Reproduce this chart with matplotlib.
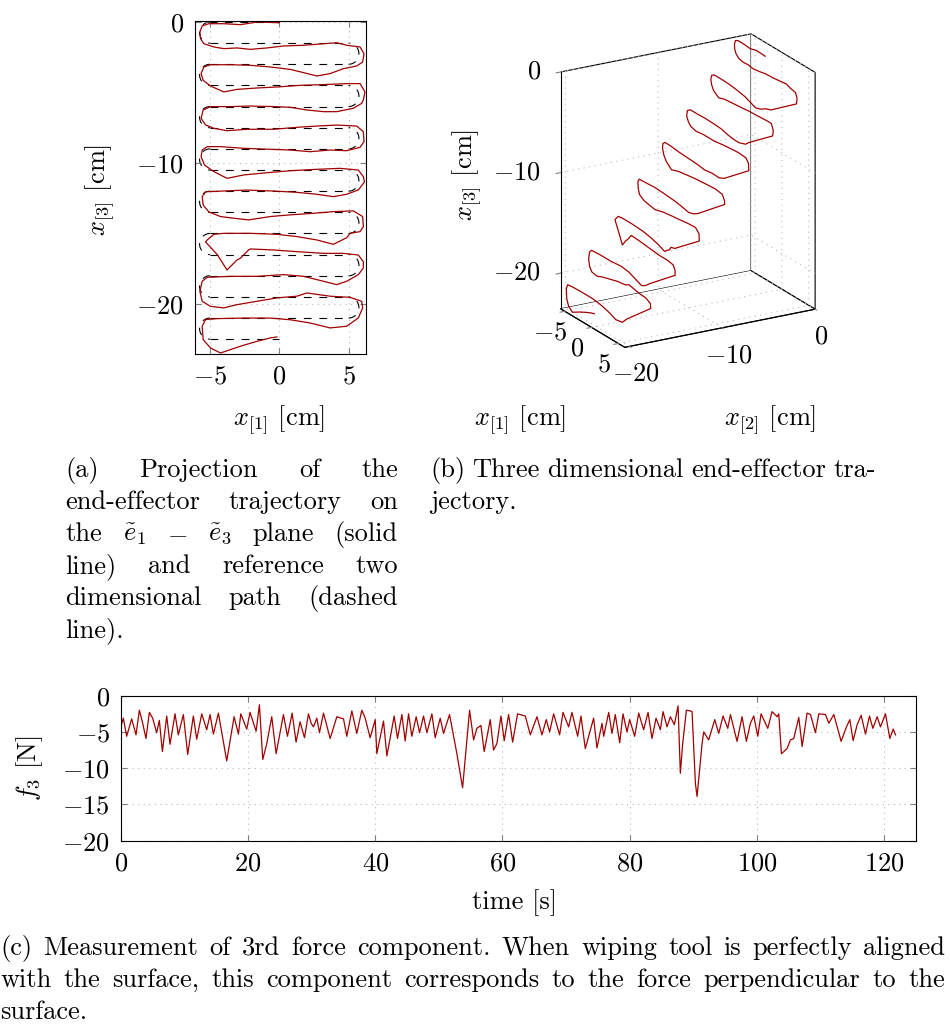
import matplotlib
matplotlib.use("Agg")
import matplotlib.pyplot as plt
from matplotlib.patches import Arc
import numpy as np

# ---------------- data ----------------
# measured end-effector path, one list per pass (row + turn), (x1, x3) in cm
passes = [
    [(0.0, -0.05), (-1.6, 0.0), (-2.8, -0.19), (-4.0, -0.12), (-5.08, -0.12), (-5.56, -0.28),
     (-5.73, -0.71), (-5.68, -1.18), (-5.44, -1.54)],
    [(-4.72, -1.77), (-4.0, -1.89), (-3.05, -1.84), (-2.09, -1.94), (-0.89, -1.84), (0.31, -1.70),
     (1.75, -1.65), (3.19, -1.54), (4.15, -1.47), (4.87, -1.65), (5.83, -1.77), (6.12, -2.25), (6.02, -2.84)],
    [(5.59, -3.12), (4.63, -3.31), (3.67, -3.66), (2.71, -3.83), (1.75, -3.59), (0.79, -3.36),
     (-0.65, -3.19), (-2.09, -3.07), (-3.53, -3.03), (-4.96, -3.03), (-5.44, -3.19), (-5.64, -3.66), (-5.49, -4.14)],
    [(-4.96, -4.54), (-4.0, -4.96), (-3.05, -4.78), (-1.6, -4.68), (-0.17, -4.61), (1.51, -4.49),
     (3.19, -4.44), (4.87, -4.37), (5.83, -4.37), (6.19, -4.96), (6.07, -5.53)],
    [(5.95, -5.77), (5.35, -6.12), (4.15, -6.36), (3.19, -6.36), (1.99, -6.24), (0.79, -6.05), (-0.41, -6.0),
     (-2.09, -5.96), (-3.53, -6.0), (-4.96, -6.0), (-5.49, -6.24), (-5.64, -6.83), (-5.32, -7.3)],
    [(-4.72, -7.54), (-3.77, -7.71), (-2.33, -7.61), (-0.41, -7.61), (1.27, -7.47), (2.71, -7.38),
     (4.15, -7.31), (5.59, -7.38), (6.07, -7.78), (6.12, -8.49)],
    [(5.83, -8.89), (4.87, -9.13), (3.67, -9.08), (2.23, -9.2), (0.79, -9.08), (-0.65, -9.03),
     (-2.57, -8.96), (-4.24, -8.84), (-5.2, -8.84), (-5.56, -9.08), (-5.64, -9.55), (-5.4, -10.14)],
    [(-4.72, -10.61), (-3.77, -11.09), (-2.57, -10.85), (-0.89, -10.69), (0.79, -10.55), (2.71, -10.45),
     (4.39, -10.38), (5.71, -10.5), (6.07, -10.97), (6.15, -11.35)],
    [(5.71, -11.91), (4.87, -12.22), (3.91, -12.39), (2.71, -12.22), (1.27, -12.08), (-0.41, -11.99),
     (-2.33, -11.92), (-4.0, -11.99), (-5.32, -12.04), (-5.56, -12.39), (-5.49, -12.99)],
    [(-5.08, -13.47), (-4.24, -13.8), (-3.29, -13.92), (-2.21, -14.04), (-0.65, -13.8), (0.79, -13.68),
     (2.47, -13.57), (3.91, -13.45), (5.35, -13.4), (6.02, -13.8), (6.07, -14.52)],
    [(5.83, -14.87), (5.11, -14.99), (4.87, -15.3), (3.91, -15.77), (2.71, -15.46), (1.27, -15.22),
     (-0.17, -15.06), (-2.09, -14.99), (-4.0, -14.99), (-4.72, -15.06), (-5.2, -15.46), (-5.32, -15.6)],
    [(-4.48, -16.49), (-3.77, -17.59), (-3.05, -16.88), (-2.81, -16.76), (-2.21, -16.17), (-2.09, -16.1),
     (-0.41, -16.17), (1.27, -16.29), (3.19, -16.41), (4.63, -16.41), (5.71, -16.53), (6.07, -17.0), (6.07, -17.45)],
    [(5.71, -17.92), (4.87, -18.39), (4.15, -18.63), (3.19, -18.39), (1.75, -18.04), (0.31, -17.92),
     (-1.6, -18.04), (-3.53, -18.04), (-5.2, -18.11), (-5.56, -18.39), (-5.73, -19.1), (-5.56, -19.81)],
    [(-4.96, -20.17), (-4.0, -20.28), (-3.05, -20.05), (-1.6, -19.81), (-0.17, -19.57), (1.27, -19.45),
     (1.99, -19.22), (3.67, -19.45), (5.11, -19.53), (5.95, -19.81), (6.02, -20.28)],
    [(5.71, -20.99), (4.87, -21.58), (3.67, -21.7), (2.23, -21.35), (0.79, -21.12), (-0.65, -21.0),
     (-2.57, -21.0), (-4.48, -21.04), (-5.32, -21.11), (-5.56, -21.58), (-5.49, -22.53)],
    [(-4.96, -23.12), (-4.24, -23.48), (-2.81, -23.0), (-1.6, -22.65), (-0.65, -22.41), (-0.17, -22.34)],
]
# depth x2 of each pass (3D view): the tool steps back after every second pass
pass_x2 = [-1.8, -1.9, -4.4, -4.5, -7.0, -7.1, -9.6, -9.7, -12.3, -12.4, -14.9, -15.0, -17.5, -17.6, -20.0, -20.1]

# reference path rows (x3, cm), straight segments between x1=-5 and 5, turns of radius 0.75
ref_rows = [0.0, -1.5, -3.0, -4.5, -6.0, -7.5, -9.0, -10.5, -12.0, -13.5, -15.0, -16.5, -18.0, -19.5, -21.0, -22.5]
ref_half = 5.0
ref_radius = 0.75

# force component f3 (N) vs time (s)
force_t = [0.0, 0.37, 0.89, 1.68, 2.36, 2.89, 3.41, 3.93, 4.46, 4.98, 5.61, 6.03, 6.51, 7.19, 7.71, 8.5, 9.02,
           9.81, 10.49, 11.38, 11.91, 12.7, 13.48, 14.01, 14.53, 15.32, 16.63, 17.79, 18.47, 18.84, 19.78,
           20.3, 21.25, 21.77, 22.3, 22.93, 23.71, 24.4, 25.55, 26.18, 26.92, 27.54, 28.17, 28.86, 29.49,
           29.91, 30.27, 30.8, 31.22, 31.85, 32.9, 33.95, 35.0, 35.52, 36.31, 37.09, 37.88, 38.41, 39.19,
           39.98, 40.24, 41.29, 41.82, 42.97, 43.49, 44.18, 44.7, 45.23, 45.75, 46.43, 46.96, 47.59, 48.11,
           48.9, 49.42, 50.21, 50.73, 51.68, 52.83, 53.73, 54.83, 55.46, 55.98, 56.61, 57.13, 58.08, 58.6,
           59.13, 59.76, 60.28, 60.97, 61.6, 62.38, 63.59, 64.38, 65.43, 66.21, 66.89, 67.42, 68.05, 68.99,
           69.52, 70.41, 70.93, 71.83, 72.35, 73.03, 74.34, 74.87, 75.66, 75.92, 76.71, 77.23, 77.75, 78.44,
           78.96, 79.59, 80.01, 80.8, 81.43, 82.21, 82.9, 83.52, 84.16, 84.84, 85.26, 85.89, 86.41, 87.04,
           87.62, 87.98, 88.35, 88.93, 89.56, 89.82, 90.35, 90.61, 91.4, 91.66, 92.44, 93.39, 94.02, 94.7,
           95.44, 95.86, 96.9, 97.69, 98.37, 99.0, 99.53, 100.16, 100.68, 101.73, 102.41, 103.2, 103.46,
           103.88, 104.77, 105.3, 105.82, 106.61, 107.14, 107.92, 108.45, 109.23, 109.76, 110.81, 111.33,
           112.12, 113.27, 114.11, 114.64, 115.16, 115.79, 116.42, 117.1, 117.73, 118.26, 118.94, 119.46,
           120.25, 120.93, 121.46, 121.83]
force_f = [-4.2, -3.1, -5.6, -3.2, -5.4, -2.0, -3.8, -5.9, -2.3, -3.1, -5.1, -3.4, -7.7, -2.8, -6.7, -2.5, -5.4,
           -2.6, -8.1, -2.8, -6.0, -2.5, -4.7, -2.6, -5.3, -2.4, -9.0, -2.9, -5.3, -2.5, -4.6,
           -2.3, -4.9, -1.25, -8.8, -6.6, -2.9, -8.0, -2.6, -5.6, -2.4, -6.4, -3.6, -5.8, -2.5,
           -3.8, -4.3, -3.1, -5.1, -2.4, -5.9, -2.9, -3.2, -5.6, -2.1, -5.2, -2.0, -3.1, -5.8,
           -3.3, -8.0, -3.5, -8.3, -2.8, -5.9, -2.6, -6.25, -2.5, -5.6, -2.9, -5.1, -2.8, -5.1,
           -2.5, -5.8, -3.1, -5.2, -2.6, -8.0, -12.7, -2.0, -6.1, -4.5, -4.1, -7.7, -3.3, -7.5,
           -6.6, -2.8, -6.2, -2.6, -6.4, -2.5, -2.8, -5.4, -2.9, -5.4, -3.3, -5.0, -2.5, -5.4,
           -2.3, -4.3, -2.3, -5.6, -2.8, -7.3, -3.1, -7.2, -3.8, -5.6, -2.3, -5.2, -2.6, -6.5,
           -2.5, -5.0, -3.3, -5.6, -2.4, -4.7, -2.3, -5.9, -3.1, -4.7, -2.2, -4.3, -2.9, -4.0,
           -1.4, -10.7, -6.6, -2.0, -2.1, -2.2, -12.1, -13.9, -6.6, -5.0, -6.1, -3.3, -5.2, -2.8,
           -4.5, -2.6, -6.3, -2.9, -6.3, -3.8, -2.8, -5.6, -2.5, -4.5, -2.2, -2.9, -2.5,
           -8.0, -7.3, -6.1, -5.9, -3.0, -7.0, -2.4, -2.6, -5.1, -2.5, -2.6, -3.8,
           -2.6, -6.3, -4.3, -3.3, -6.2, -4.0, -2.7, -5.3, -2.8, -4.5, -2.9, -4.3,
           -2.5, -5.9, -4.6, -5.4]

# ---------------- style ----------------
FS = 19
plt.rcParams['font.family'] = 'cmr10'
plt.rcParams['mathtext.fontset'] = 'cm'
plt.rcParams['axes.formatter.use_mathtext'] = True
plt.rcParams['font.size'] = FS
RED = '#a00000'
GRID = dict(color='#b9b9b9', linestyle=(0, (1, 4)), linewidth=0.8)

W, H = 950, 1027


def fx(x):
    return x / W


def fy(y):
    return 1 - y / H


def style_2d(ax):
    ax.grid(True, **GRID)
    ax.tick_params(direction='in', top=True, right=True, length=4.5, width=0.8,
                   color='#7f7f7f', labelsize=FS, pad=8)
    for s in ax.spines.values():
        s.set_linewidth(0.8)


fig = plt.figure(figsize=(W / 100, H / 100), dpi=100)

# ---------------- (a) projection ----------------
ax = fig.add_axes([fx(195), fy(354), (365.7 - 195) / W, (354 - 21.3) / H])
for k, y in enumerate(ref_rows):
    if k == 0:
        xs = [0.0, -ref_half]
    elif k == len(ref_rows) - 1:
        xs = [-ref_half, 0.0]
    else:
        xs = [-ref_half, ref_half]
    ax.plot(xs, [y, y], color='black', lw=0.8, dashes=(7, 7))
    if k < len(ref_rows) - 1:
        side = -ref_half if k % 2 == 0 else ref_half
        th = (90, 270) if side < 0 else (-90, 90)
        ax.add_patch(Arc((side, y - ref_radius), 2 * ref_radius, 2 * ref_radius,
                         theta1=th[0], theta2=th[1], color='black', lw=0.8, ls=(0, (7, 7))))
traj = np.array([p for ps in passes for p in ps])
ax.plot(traj[:, 0], traj[:, 1], color=RED, lw=0.9)
ax.set_xlim(-6.08, 6.24)
ax.set_ylim(-23.55, 0.05)
ax.set_xticks([-5, 0, 5])
ax.set_yticks([0, -10, -20])
style_2d(ax)
fig.text(fx(100), fy(190), r'$x_{[3]}$ [cm]', rotation=90, ha='center', va='center', fontsize=FS)
fig.text(fx(279), fy(420), r'$x_{[1]}$ [cm]', ha='center', va='center', fontsize=FS)

# ---------------- (b) 3D trajectory ----------------
ax3 = fig.add_axes([fx(467.5), fy(396), 430 / W, 400 / H], projection='3d')
ax3.set_proj_type('ortho')
ax3.view_init(elev=20.3, azim=-30)
x2 = np.concatenate([[pass_x2[k]] * len(ps) for k, ps in enumerate(passes)])
ax3.plot(traj[:, 0], x2, traj[:, 1], color=RED, lw=0.9)
ax3.set_xlim(-5.75, 6.2)
ax3.set_ylim(-20.5, 0.0)
ax3.set_zlim(-23.55, 0.0)
ax3.set_box_aspect((11.95, 20.5, 23.55), zoom=0.87)
ax3.set_xticks([-5, 0, 5])
ax3.set_yticks([-20, -10, 0])
ax3.set_zticks([-20, -10, 0])
for a in (ax3.xaxis, ax3.yaxis, ax3.zaxis):
    a.set_pane_color('white')
    a.pane.set_edgecolor('black')
    a.pane.set_linewidth(0.8)
    a.line.set_color('black')
    a.line.set_linewidth(0.8)
    a._axinfo['grid'].update(GRID)
    a._axinfo['tick']['inward_factor'] = 0.3
    a._axinfo['tick']['outward_factor'] = 0.0
    for t in a.get_ticklabels():
        t.set_va('center')
for t in ax3.zaxis.get_ticklabels():
    t.set_ha('right')
ax3.zaxis.set_ticks_position('lower')
ax3.tick_params(labelsize=FS, color='#7f7f7f')
ax3.tick_params(axis='y', pad=7)
fig.text(fx(467), fy(175), r'$x_{[3]}$ [cm]', rotation=90, ha='center', va='center', fontsize=FS)
fig.text(fx(520), fy(420), r'$x_{[1]}$ [cm]', ha='center', va='center', fontsize=FS)
fig.text(fx(770), fy(420), r'$x_{[2]}$ [cm]', ha='center', va='center', fontsize=FS)

# ---------------- (c) force ----------------
axc = fig.add_axes([fx(121), fy(840.7), 794.7 / W, 145 / H])
axc.plot(force_t, force_f, color=RED, lw=0.9)
axc.set_xlim(0, 125)
axc.set_ylim(-20, 0)
axc.set_xticks([0, 20, 40, 60, 80, 100, 120])
axc.set_yticks([0, -5, -10, -15, -20])
style_2d(axc)
fig.text(fx(30), fy(768), r'$f_3$ [N]', rotation=90, ha='center', va='center', fontsize=FS)
fig.text(fx(515), fy(903), 'time [s]', ha='center', va='center', fontsize=FS)

# ---------------- captions (justified like LaTeX) ----------------
renderer = fig.canvas.get_renderer()
SPACE = FS * 100 / 72 * 0.333


def put_line(words, x0, x1, yb, justify=True):
    ts = [fig.text(fx(x0), fy(yb), w, fontsize=FS, ha='left', va='baseline') for w in words]
    ws = [t.get_window_extent(renderer).width for t in ts]
    gap = (x1 - x0 - sum(ws)) / (len(ws) - 1) if (justify and len(ws) > 1) else SPACE
    x = x0
    for t, w in zip(ts, ws):
        t.set_x(fx(x))
        x += w + gap


cap_a = [['(a)', 'Projection', 'of', 'the'],
         ['end-effector', 'trajectory', 'on'],
         ['the', r'$\tilde{e}_1$', r'$-$', r'$\tilde{e}_3$', 'plane', '(solid'],
         ['line)', 'and', 'reference', 'two'],
         ['dimensional', 'path', '(dashed'],
         ['line).']]
for i, words in enumerate(cap_a):
    put_line(words, 65, 398, 477 + 32 * i, justify=i < len(cap_a) - 1)

cap_b = [['(b)', 'Three', 'dimensional', 'end-effector', 'tra-'], ['jectory.']]
for i, words in enumerate(cap_b):
    put_line(words, 430, 876, 477 + 32 * i, justify=i == 0)

cap_c = ['(c) Measurement of 3rd force component. When wiping tool is perfectly aligned'.split(),
         'with the surface, this component corresponds to the force perpendicular to the'.split(),
         ['surface.']]
for i, words in enumerate(cap_c):
    put_line(words, 0, 945, 955 + 32 * i, justify=i < 2)

fig.savefig('out.png', dpi=100)
